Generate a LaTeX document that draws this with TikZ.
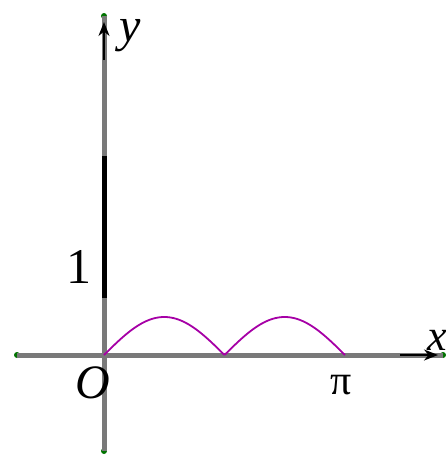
\documentclass[tikz,border=0pt]{standalone}
\usepackage{fontspec}
\setmainfont{Liberation Serif}
\usetikzlibrary{arrows.meta}
\begin{document}
\begin{tikzpicture}[x=1pt,y=-1pt,
  axis/.style={draw=gray!95!black,line width=5pt},
  enddot/.style={circle,fill=green!45!black,inner sep=0pt,minimum size=6pt},
  lbl/.style={inner sep=0pt},
  curve/.style={draw=violet!70!magenta,line width=1.8pt}]
\useasboundingbox (0,0) rectangle (446,456);
\coordinate (O) at (104,355);
\node[enddot] (ytop) at (104,16) {};
\node[enddot] (ybot) at (104,451) {};
\node[enddot] (xleft) at (17,355) {};
\node[enddot] (xright) at (443,355) {};
\draw[axis] (ybot.center) -- (ytop.center);
\draw[axis] (xleft.center) -- (xright.center);
\draw[black,line width=5pt] (104,156) -- (104,298);
\draw[black,line width=2pt,-{Stealth[length=14pt,width=11pt]}] (104,60) -- (104,22);
\draw[black,line width=2pt,-{Stealth[length=14pt,width=11pt]}] (400,355) -- (438,355);
\draw[curve,domain=0:241,samples=200] plot ({104+\x},{355-38*abs(sin(1.4938*\x))});
\node[lbl,font=\fontsize{48}{48}\selectfont\itshape] (ylab) at (130,36) {y};
\node[lbl,font=\fontsize{44}{44}\selectfont\itshape] (xlab) at (437,340) {x};
\node[lbl,font=\fontsize{48}{48}\selectfont\itshape] (olab) at (93,383) {O};
\node[lbl,font=\fontsize{50}{50}\selectfont] (one) at (79,267) {1};
\node[lbl,font=\fontsize{42}{42}\selectfont] (pilab) at (341,385) {π};
\end{tikzpicture}
\end{document}
